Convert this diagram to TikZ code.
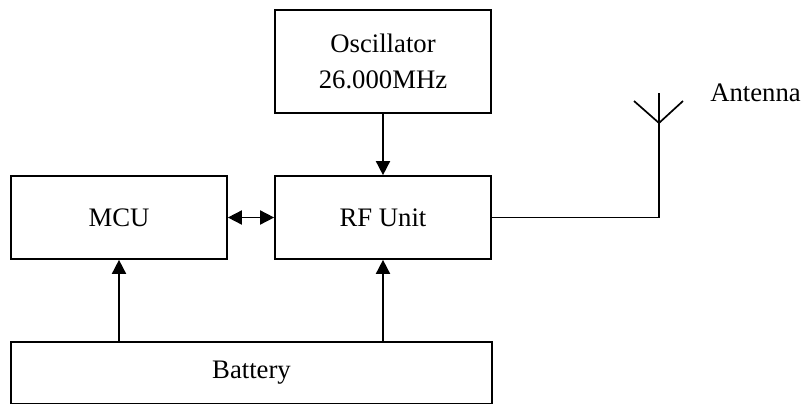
\documentclass[tikz,border=0pt]{standalone}
\usepackage{fontspec}
\setmainfont{Liberation Serif}
\usepackage{tikz}
\usetikzlibrary{arrows.meta,positioning,calc}

\begin{document}
\begin{tikzpicture}[
  block/.style={draw, line width=1.2pt, minimum width=5.4cm, minimum height=2.075cm, inner sep=0pt, align=center, font=\fontsize{19}{26}\selectfont},
  arrow/.style={-{Triangle[length=10pt, width=10pt]}, line width=1.2pt},
  wire/.style={line width=1.2pt},
  label/.style={font=\fontsize{19}{26}\selectfont, inner sep=0pt},
]
  \useasboundingbox (0,0) rectangle (20.2,-10.1);

  % Blocks
  \node[block, minimum height=2.575cm] (osc) at (9.575,-1.5375) {Oscillator\\26.000MHz};
  \node[block] (rf) at (9.575,-5.4375) {RF Unit};
  \node[block] (mcu) at (2.975,-5.4375) {MCU};
  \node[block, minimum width=12.025cm, minimum height=1.55cm] (battery) at (6.2875,-9.325) {Battery};

  % Antenna
  \coordinate (ant) at (16.475,-3.075);
  \coordinate (anttop) at (16.475,-2.325);
  \coordinate (antl) at (15.85,-2.525);
  \coordinate (antr) at (17.075,-2.525);
  \node[label, anchor=west] (antlabel) at (17.75,-2.325) {Antenna};

  % Arrows
  \draw[arrow] (osc) -- (rf);
  \draw[arrow, {Triangle[length=10pt, width=10pt]}-{Triangle[length=10pt, width=10pt]}] (mcu) -- (rf);
  \draw[arrow] (battery.north -| mcu) -- (mcu);
  \draw[arrow] (battery.north -| rf) -- (rf);
  \draw[wire] (rf.east) -- (rf.east -| ant) -- (anttop);
  \draw[wire] (antl) -- (ant) -- (antr);
\end{tikzpicture}
\end{document}
